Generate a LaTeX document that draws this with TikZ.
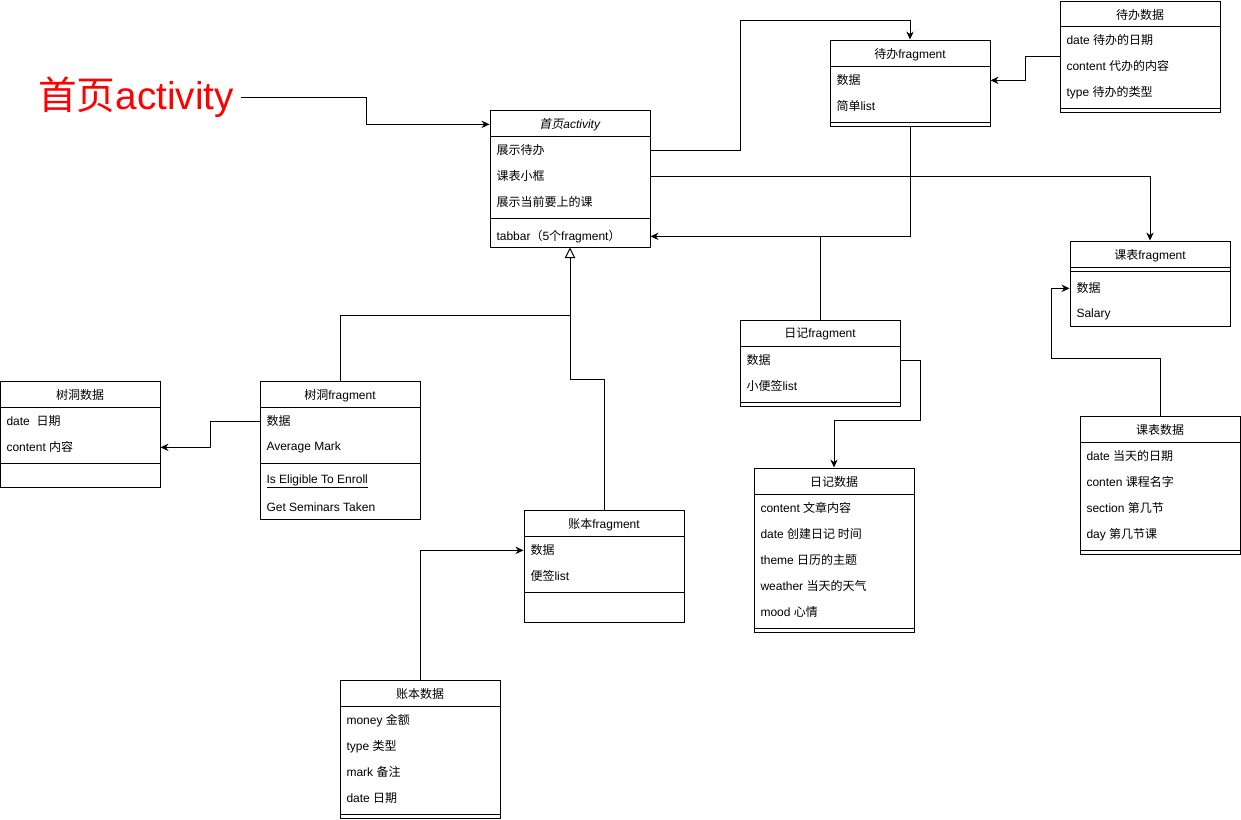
\documentclass[tikz,border=0pt]{standalone}
\usepackage{fontspec}
\setmainfont{Liberation Sans}
\newfontfamily\cjk{Noto Sans CJK SC}[AutoFakeSlant=0.2]
\newfontfamily\latn{Liberation Sans}
% Chinese characters go to the CJK font
\XeTeXinterchartokenstate=1
\chardef\cjkclass=7
\count255="4E00
\loop \XeTeXcharclass\count255=\cjkclass \ifnum\count255<"9FFF \advance\count255 by 1 \repeat
\XeTeXcharclass"FF08=\cjkclass
\XeTeXcharclass"FF09=\cjkclass
\XeTeXinterchartoks 0 \cjkclass={\cjk}
\XeTeXinterchartoks 4095 \cjkclass={\cjk}
\XeTeXinterchartoks \cjkclass 0={\latn}
\usetikzlibrary{arrows.meta,fit}
\tikzset{
  box/.style={draw, inner sep=0pt},
  head/.style={inner sep=0pt, yshift=-1pt, font=\fontsize{9}{11}\selectfont},
  item/.style={anchor=west, inner sep=0pt, yshift=-1pt, font=\fontsize{9}{11}\selectfont},
  arr/.style={-{Stealth[length=6pt,width=5.5pt]}},
  inh/.style={-{Triangle[open,length=8pt,width=8pt]}}
}
\begin{document}
\begin{tikzpicture}[x=0.75pt,y=-0.75pt,line width=0.75pt]
\useasboundingbox (0,0) rectangle (1241,819);
\node[inner xsep=5pt, inner ysep=0pt, text=red, font=\fontsize{29}{32}\selectfont] (title) at (136,97) {首页activity};
% 首页activity
\node[box, fit={(490,110) (650,247)}] (act) {};
\node[head] (acth) at (570,123) {\textit{首页activity}};
\draw (490,136) -- (650,136) (490,218) -- (650,218);
\node[item] (act1) at (496,149) {展示待办};
\node[item] (act2) at (496,175) {课表小框};
\node[item] (act3) at (496,201) {展示当前要上的课};
\node[item] (act4) at (496,235) {tabbar（5个fragment）};
% 待办
\node[box, fit={(830,40) (990,126)}] (todo) {};
\node[head] at (910,53) {待办fragment};
\draw (830,66) -- (990,66) (830,122) -- (990,122);
\node[item] (todo1) at (836,79) {数据};
\node[item] (todo2) at (836,105) {简单list};
\node[box, fit={(1060,1) (1220,112)}] (todod) {};
\node[head] at (1140,14) {待办数据};
\draw (1060,26) -- (1220,26) (1060,108) -- (1220,108);
\node[item] (todod1) at (1066,39) {date 待办的日期};
\node[item] (todod2) at (1066,65) {content 代办的内容};
\node[item] (todod3) at (1066,91) {type 待办的类型};
% 课表
\node[box, fit={(1070,241) (1230,326)}] (sched) {};
\node[head] at (1150,254) {课表fragment};
\draw (1070,267) -- (1230,267) (1070,271) -- (1230,271);
\node[item] (sched1) at (1076,287) {数据};
\node[item] (sched2) at (1076,313) {Salary};
\node[box, fit={(1080,416) (1240,554)}] (schedd) {};
\node[head] at (1160,429) {课表数据};
\draw (1080,442) -- (1240,442) (1080,550) -- (1240,550);
\node[item] (schedd1) at (1086,455) {date 当天的日期};
\node[item] (schedd2) at (1086,481) {conten 课程名字};
\node[item] (schedd3) at (1086,507) {section 第几节};
\node[item] (schedd4) at (1086,533) {day 第几节课};
% 日记
\node[box, fit={(740,320) (900,406)}] (diary) {};
\node[head] at (820,333) {日记fragment};
\draw (740,346) -- (900,346) (740,402) -- (900,402);
\node[item] (diary1) at (746,359) {数据};
\node[item] (diary2) at (746,385) {小便签list};
\node[box, fit={(754,468) (914,632)}] (diaryd) {};
\node[head] at (834,481) {日记数据};
\draw (754,494) -- (914,494) (754,628) -- (914,628);
\node[item] (diaryd1) at (760,507) {content 文章内容};
\node[item] (diaryd2) at (760,533) {date 创建日记 时间};
\node[item] (diaryd3) at (760,559) {theme 日历的主题};
\node[item] (diaryd4) at (760,585) {weather 当天的天气};
\node[item] (diaryd5) at (760,611) {mood 心情};
% 树洞
\node[box, fit={(0.5,381) (160,487)}] (holed) {};
\node[head] at (80,394) {树洞数据};
\draw (0,407) -- (160,407) (0,463) -- (160,463);
\node[item] (holed1) at (6,420) {date~ 日期};
\node[item] (holed2) at (6,446) {content 内容};
\node[box, fit={(260,381) (420,519)}] (holef) {};
\node[head] at (340,394) {树洞fragment};
\draw (260,407) -- (420,407) (260,463) -- (420,463);
\node[item] (holef1) at (266,420) {数据};
\node[item] (holef2) at (266,446) {Average Mark};
\node[item] (holef3) at (266,480) {\underline{Is Eligible To Enroll}};
\node[item] (holef4) at (266,506) {Get Seminars Taken};
% 账本
\node[box, fit={(524,510) (684,622)}] (bookf) {};
\node[head] at (604,523) {账本fragment};
\draw (524,536) -- (684,536) (524,592) -- (684,592);
\node[item] (bookf1) at (530,549) {数据};
\node[item] (bookf2) at (530,575) {便签list};
\node[box, fit={(340,680) (500,818)}] (bookd) {};
\node[head] at (420,693) {账本数据};
\draw (340,706) -- (500,706) (340,814) -- (500,814);
\node[item] (bookd1) at (346,719) {money 金额};
\node[item] (bookd2) at (346,745) {type 类型};
\node[item] (bookd3) at (346,771) {mark 备注};
\node[item] (bookd4) at (346,797) {date 日期};
% connectors
\draw[arr] (title.east) -- ++(126,0) |- (act.west |- acth);
\draw[arr] (act.east |- act1) -| (740,20) -| (todo.north);
\draw[arr] (todod.west) -- ++(-34,0) |- (todo.east |- todo1);
\draw[arr] (todo.south) |- (act.east |- act4);
\draw (diary.north) -- (diary.north |- act4);
\draw[arr] (act.east |- act2) -| (sched.north);
\draw[arr] (schedd.north) |- (1051,358) |- (sched.west |- sched1);
\draw[arr] (diary.east |- diary1) -| (920,420) -| (diaryd.north);
\draw[arr] (holef.west |- holef1) -- ++(-49,0) |- (holed.east |- holed2);
\draw[inh] (holef.north) |- (570,315) -- (act.south);
\draw (bookf.north) |- (570,379) -- (570,315);
\draw[arr] (bookd.north) |- (bookf.west |- bookf1);
\end{tikzpicture}
\end{document}
